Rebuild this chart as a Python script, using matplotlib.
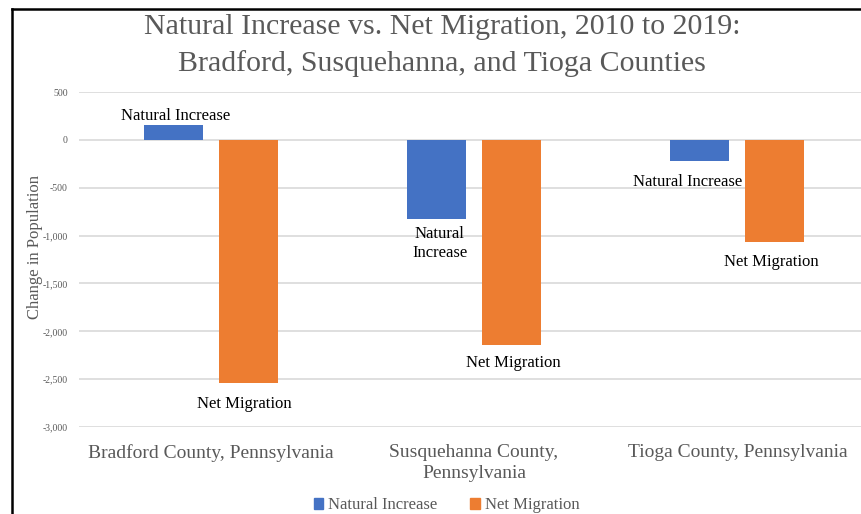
import matplotlib.pyplot as plt
from matplotlib.lines import Line2D
from matplotlib.patches import Patch
from matplotlib.ticker import FuncFormatter, MultipleLocator
import numpy as np

counties = ["Bradford County, Pennsylvania", "Susquehanna County,\nPennsylvania", "Tioga County, Pennsylvania"]
natural_increase = [160, -830, -220]
net_migration = [-2540, -2140, -1070]
series_names = ["Natural Increase", "Net Migration"]
title_lines = ["Natural Increase vs. Net Migration, 2010 to 2019:",
               "Bradford, Susquehanna, and Tioga Counties"]

BLUE = "#4472C4"
ORANGE = "#ED7D31"
GRAY = "#595959"
SERIF = ["Liberation Serif", "DejaVu Serif"]

fig = plt.figure(figsize=(8.62, 5.14), dpi=100)
ax = fig.add_axes([79 / 862, 87 / 514, (869 - 79) / 862, (427 - 92) / 514])

x = np.arange(len(counties))
w = 0.224
off = 0.142
ax.bar(x - off, natural_increase, w, color=BLUE, zorder=3)
ax.bar(x + off, net_migration, w, color=ORANGE, zorder=3)

ax.set_xlim(-0.5, 2.5)
ax.set_ylim(-3000, 500)
ax.yaxis.set_major_locator(MultipleLocator(500))
ax.yaxis.set_major_formatter(FuncFormatter(lambda v, p: f"{int(v):,}"))
ax.grid(axis="y", color="#d9d9d9", linewidth=1.2, zorder=0)
for s in ax.spines.values():
    s.set_visible(False)
ax.tick_params(axis="y", length=0, labelsize=7, labelcolor=GRAY, pad=8)
ax.tick_params(axis="x", length=0, labelsize=14, labelcolor=GRAY, pad=12)
ax.set_xticks(x)
ax.set_xticklabels(counties, fontfamily=SERIF, linespacing=1.3)
for lbl in ax.get_yticklabels():
    lbl.set_fontfamily(SERIF)
ax.set_ylabel("Change in Population", fontsize=12, color=GRAY, fontfamily=SERIF)
ax.yaxis.set_label_coords(-0.0456, 0.537)

# bar labels
lab_kw = dict(fontsize=12, color="black", fontfamily=SERIF, ha="center", textcoords="offset pixels")
ax.annotate("Natural Increase", (x[0] - off, natural_increase[0]), xytext=(2, 1), va="bottom", **lab_kw)
ax.annotate("Natural\nIncrease", (x[1] - off, natural_increase[1]), xytext=(3, -7), va="top",
            linespacing=1.25, **lab_kw)
ax.annotate("Natural Increase", (x[2] - off, natural_increase[2]), xytext=(-12, -13), va="top", **lab_kw)
nm_dx = [-4, 2, -3]
nm_dy = [-13, -10, -12]
for i, v in enumerate(net_migration):
    ax.annotate("Net Migration", (x[i] + off, v), xytext=(nm_dx[i], nm_dy[i]), va="top", **lab_kw)

for line, ypx in zip(title_lines, [34, 71]):
    fig.text(0.513, 1 - ypx / 514, line, ha="center", va="baseline",
             fontsize=21.5, color=GRAY, fontfamily=SERIF)

handles = [Patch(color=BLUE), Patch(color=ORANGE)]
fig.legend(handles, series_names, loc="lower center", bbox_to_anchor=(0.518, -0.028), ncol=2,
           frameon=False, prop={"family": SERIF, "size": 12}, labelcolor=GRAY,
           handlelength=0.55, handleheight=0.55, handletextpad=0.3, columnspacing=2.0)

# frame edges along top and left
fig.add_artist(Line2D([12 / 862, 12 / 862], [0, 1 - 9 / 514], transform=fig.transFigure, color="black", lw=1.8))
fig.add_artist(Line2D([12 / 862, 1], [1 - 9 / 514, 1 - 9 / 514], transform=fig.transFigure, color="black", lw=1.8))

fig.savefig("out.png", dpi=100)
